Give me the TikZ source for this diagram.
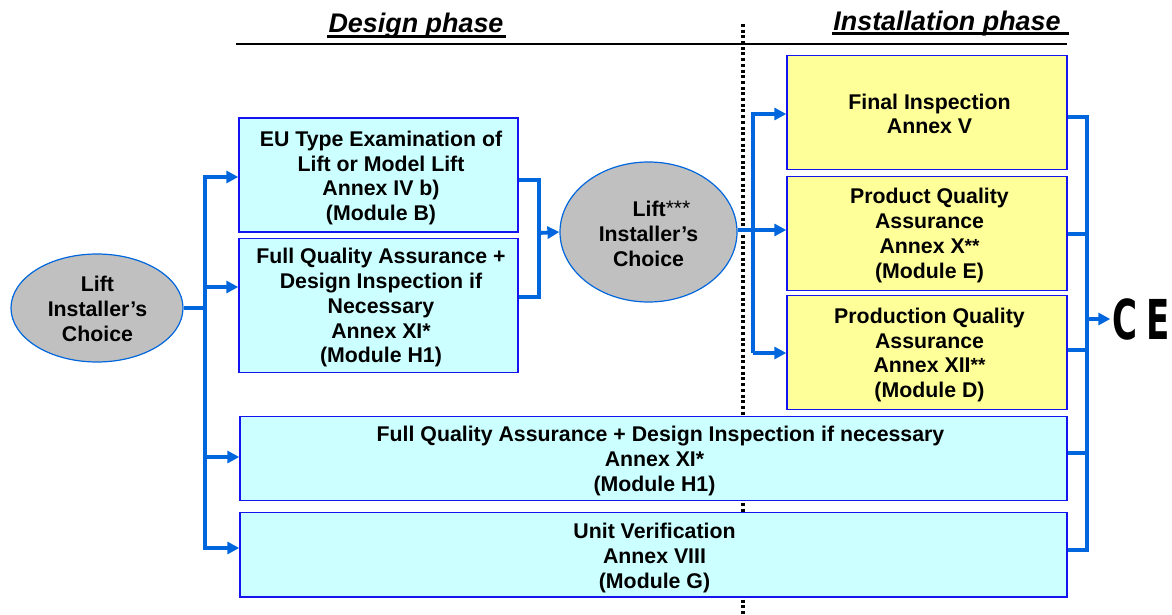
\documentclass[tikz,border=0pt]{standalone}
\usepackage{fontspec}
\setmainfont{Liberation Sans}
\newfontfamily\markfont{DejaVu Sans}
\usetikzlibrary{positioning,calc,shapes,arrows.meta}
\definecolor{myblue}{RGB}{0, 102, 221}
\definecolor{myframe}{RGB}{20, 20, 240}
\definecolor{mycyan}{RGB}{204, 255, 255}
\definecolor{myyellow}{RGB}{255, 255, 153}
\definecolor{mygray}{RGB}{192, 192, 192}
\newcommand*\boxfont{\fontsize{21.3}{24.9}\selectfont\bfseries}
\newcommand*\phasefont{\fontsize{26.9}{30}\selectfont\bfseries\itshape}
\newcommand*\upstar{{\fontsize{19}{19}\selectfont\raisebox{1.5pt}{**}}}
\newcommand*\upstars{{\normalfont\fontsize{21}{21}\selectfont\raisebox{1pt}{***}}}
\newcommand*\movedtext[3]{\raisebox{-#2}[\height][\depth]{\begin{tabular}{@{\hspace{#1}}c@{}}#3\end{tabular}}}
\tikzstyle{design}=[draw=myframe,fill=mycyan,line width=1.4pt,inner sep=0pt,font=\boxfont,minimum width=279pt,minimum height=114pt]
\tikzstyle{install}=[design,fill=myyellow,minimum width=280pt]
\tikzstyle{wide}=[design,minimum width=827pt,minimum height=84.5pt]
\tikzstyle{choice}=[ellipse,draw=myblue,fill=mygray,line width=1.2pt,inner sep=0pt,font=\boxfont]
\tikzstyle{phase}=[inner sep=0pt,font=\phasefont]
\tikzstyle{wire}=[myblue,line width=3.8pt]
\tikzstyle{arr}=[wire,-{Triangle[length=12pt,width=12pt]}]

\begin{document}
\begin{tikzpicture}[x=1pt,y=1pt]
      \useasboundingbox (0,0) rectangle (1172,614);
      \node (D) [phase] at (416,588) {Design phase};
      \node (I) [phase] at (947,590) {Installation phase};
      \draw[line width=3pt] ($(D.south west)+(-1,2)$) -- ($(D.south east)+(2,2)$);
      \draw[line width=3pt] ($(I.south west)+(-1,3)$) -- ($(I.south east)+(8,3)$);
      \coordinate (L) at (236,570);
      \coordinate (R) at (1067,570);
      \draw[line width=1.4pt] (L) -- (R);
      \coordinate (Dtop) at (743,590);
      \coordinate (Dbot) at (743,0);
      \draw[line width=3.2pt,dash pattern=on 3pt off 2.7pt] (Dtop) -- (Dbot);
      \node (A) [choice,minimum width=172pt,minimum height=108pt] at (97,306) {\movedtext{1pt}{3.5pt}{Lift\\Installer’s\\Choice}};
      \node (B) [design] at (378.5,439) {\movedtext{5pt}{3.5pt}{EU Type Examination of\\Lift or Model Lift\\Annex IV b)\\(Module B)}};
      \node (C) [design,below=5pt of B,minimum height=134pt] {\movedtext{5pt}{2.8pt}{Full Quality Assurance +\\Design Inspection if\\Necessary\\Annex XI*\\(Module H1)}};
      \node (E) [choice,minimum width=177pt,minimum height=140pt] at (648.5,382) {\movedtext{0pt}{4.5pt}{\hspace*{26pt}Lift\upstars\\Installer’s\\Choice}};
      \node (F) [install] at (927,501.5) {\movedtext{5pt}{4pt}{Final Inspection\\Annex V}};
      \node (G) [install,below=5.5pt of F] {\movedtext{5pt}{2.8pt}{Product Quality\\Assurance\\Annex X\upstar\\(Module E)}};
      \node (H) [install,below=3.5pt of G] {\movedtext{5pt}{3.2pt}{Production Quality\\Assurance\\Annex XII\upstar\\(Module D)}};
      \node (J) [wide] at (653.5,155.5) {\movedtext{2pt}{3pt}{\hspace*{12pt}Full Quality Assurance + Design Inspection if necessary\\Annex XI*\\(Module H1)}};
      \node (K) [wide,below=10.5pt of J] {\movedtext{2pt}{3.5pt}{Unit Verification\\Annex VIII\\(Module G)}};
      \node (M) [inner sep=0pt,font=\fontsize{55}{55}\selectfont\markfont\bfseries] at (1141,295) {\scalebox{0.62}[1]{C\hspace{14pt}E}};
      \coordinate (T1) at (205,437);
      \coordinate (T2) at (205,327);
      \coordinate (T3) at (205,157);
      \coordinate (T4) at (205,66);
      \coordinate (T1a) at (203,437);
      \coordinate (T4a) at (203,66);
      \draw[wire] (A.east) -- (A.east -| T1);
      \draw[wire] (T1) -- (T4);
      \draw[arr] (T1a) -- (T1 -| B.west);
      \draw[arr] (T2) -- (T2 -| C.west);
      \draw[arr] (T3) -- (T3 -| J.west);
      \draw[arr] (T4a) -- (T4 -| K.west);
      \coordinate (U1) at (539,434);
      \coordinate (U2) at (539,317);
      \coordinate (U3) at (539,381);
      \draw[wire] (U1 -| B.east) -- (U1) -- (U2) -- (U2 -| C.east);
      \draw[arr] (U3) -- (E.west);
      \coordinate (V1) at (753,500);
      \coordinate (V2) at (753,384);
      \coordinate (V3) at (753,261);
      \coordinate (V1a) at (751,500);
      \draw[wire] (V1) -- (V3);
      \draw[arr] (V1a) -- (V1 -| F.west);
      \draw[arr] (E.east |- V2) -- (V2 -| G.west);
      \draw[arr] (V3) -- (V3 -| H.west);
      \coordinate (W1) at (1087,497);
      \coordinate (W2) at (1087,380);
      \coordinate (W3) at (1087,264);
      \coordinate (W4) at (1087,161);
      \coordinate (W5) at (1087,64);
      \coordinate (W6) at (1087,295);
      \draw[wire] (W1 -| F.east) -- (W1) -- (W5) -- (W5 -| K.east);
      \draw[wire] (W2 -| G.east) -- (W2);
      \draw[wire] (W3 -| H.east) -- (W3);
      \draw[wire] (W4 -| J.east) -- (W4);
      \draw[arr,shorten >=2pt] (W6) -- (M.west);
    \end{tikzpicture}
\end{document}
